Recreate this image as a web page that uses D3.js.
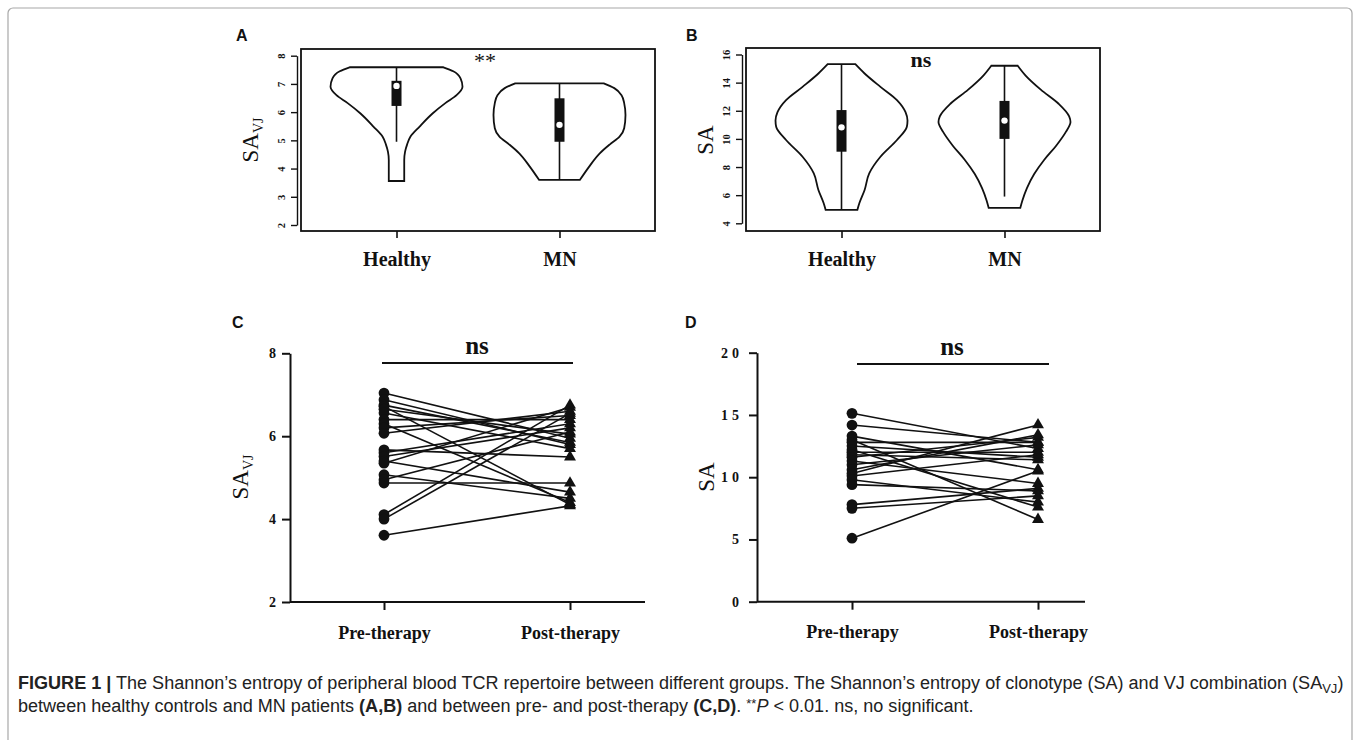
<!DOCTYPE html>
<html>
<head>
<meta charset="utf-8">
<script src="https://cdn.jsdelivr.net/npm/d3@7"></script>
<style>
  body { margin: 0; background: #fff; }
  svg { display: block; }
</style>
</head>
<body>
<div id="chart"></div>
<script>
// ---- data ----
const groupsAB = ["Healthy", "MN"];
const groupsCD = ["Pre-therapy", "Post-therapy"];

const ticksA = [2, 3, 4, 5, 6, 7, 8];
const ticksB = [4, 6, 8, 10, 12, 14, 16];
const ticksC = [2, 4, 6, 8];
const ticksD = [0, 5, 10, 15, 20];

// violin outlines: [value, relative density]
const violinA_healthy = [[7.59, 0.71], [7.45, 0.86], [7.2, 0.97], [6.9, 1.0], [6.6, 0.91], [6.32, 0.74],
  [5.96, 0.55], [5.49, 0.35], [5.13, 0.21], [4.85, 0.16], [4.6, 0.13], [4.3, 0.117], [3.56, 0.117]];
const violinA_mn = [[7.02, 0.67], [6.85, 0.83], [6.6, 0.94], [6.32, 0.98], [5.9, 1.0], [5.43, 0.98],
  [5.13, 0.91], [4.85, 0.76], [4.54, 0.61], [4.07, 0.45], [3.6, 0.31]];
const violinB_healthy = [[15.31, 0.21], [14.65, 0.35], [13.7, 0.59], [12.76, 0.84], [11.9, 0.97], [11.3, 1.0],
  [10.86, 0.99], [9.92, 0.84], [8.73, 0.59], [7.55, 0.42], [6.37, 0.35], [5.42, 0.27], [4.95, 0.24]];
const violinB_mn = [[15.2, 0.2], [14.5, 0.32], [13.5, 0.55], [12.5, 0.82], [11.6, 0.98], [11.2, 1.0],
  [10.5, 0.93], [9.5, 0.78], [8.5, 0.6], [7.5, 0.45], [6.5, 0.34], [5.6, 0.27], [5.1, 0.24]];

// box stats: [whisker low, q1, median, q3, whisker high]
const boxA_healthy = [4.95, 6.22, 6.93, 7.11, 7.59];
const boxA_mn = [3.6, 4.95, 5.55, 6.49, 7.02];
const boxB_healthy = [4.95, 9.09, 10.82, 12.05, 15.31];
const boxB_mn = [5.9, 10.0, 11.3, 12.7, 15.2];

// paired samples
const preC  = [7.04, 6.88, 6.75, 6.72, 6.65, 6.56, 6.40, 6.30, 6.20, 6.07, 5.67, 5.60, 5.51, 5.40, 5.35, 5.07, 4.95, 4.87, 4.11, 4.00, 3.61];
const postC = [5.95, 5.80, 5.85, 4.35, 6.05, 5.70, 6.40, 4.40, 6.50, 6.60, 5.50, 6.30, 6.20, 4.65, 6.70, 4.50, 6.10, 4.87, 6.75, 6.55, 4.32];
const preD  = [15.13, 14.19, 13.3, 13.0, 12.8, 12.5, 12.2, 12.0, 11.8, 11.6, 11.3, 11.0, 10.6, 10.3, 10.1, 9.8, 9.4, 7.8, 7.5, 5.1];
const postD = [12.3, 12.8, 10.6, 6.6, 12.8, 11.6, 7.6, 12.0, 11.4, 13.2, 9.5, 12.6, 13.4, 14.2, 11.8, 8.0, 8.9, 9.1, 8.5, 10.5];

const serif = "'Liberation Serif', 'Times New Roman', serif";
const sans = "'Liberation Sans', Arial, sans-serif";
const ink = "#111";

const width = 1360;
const height = 740;

const svg = d3.select('#chart')
  .append('svg')
  .attr('width', width)
  .attr('height', height)
  .attr('viewBox', `0 0 ${width} ${height}`);

// light frame round the whole figure (runs off the bottom edge)
svg.append('rect')
  .attr('x', 8).attr('y', 8)
  .attr('width', width - 16).attr('height', 745)
  .attr('rx', 5)
  .attr('fill', 'none')
  .attr('stroke', '#a8a8a8')
  .attr('stroke-width', 1.2);

function panelLabel(txt, x, y) {
  svg.append('text')
    .attr('x', x).attr('y', y)
    .attr('font-family', sans)
    .attr('font-weight', 'bold')
    .attr('font-size', 16)
    .attr('fill', ink)
    .text(txt);
}

function yLabel(x, y, main, sub) {
  const t = svg.append('text')
    .attr('transform', `translate(${x},${y}) rotate(-90)`)
    .attr('text-anchor', 'middle')
    .attr('font-family', serif)
    .attr('font-size', 23)
    .attr('fill', ink);
  t.append('tspan').text(main);
  if (sub) {
    t.append('tspan').attr('font-size', 14).attr('dy', 5).text(sub);
  }
}

// ---- violin panels (A, B) ----
function violinPanel(cfg) {
  const g = svg.append('g');
  const x = d3.scalePoint().domain(groupsAB).range([cfg.left, cfg.right]).padding(0.586);
  const y = d3.scaleLinear().domain(cfg.yDomain).range(cfg.yRange);
  const w = d3.scaleLinear().domain([0, 1]).range([0, 66]);

  g.append('rect')
    .attr('x', cfg.left).attr('y', cfg.top)
    .attr('width', cfg.right - cfg.left).attr('height', cfg.bottom - cfg.top)
    .attr('fill', 'none').attr('stroke', ink).attr('stroke-width', 1.8);

  // y axis, labels turned like base R
  const gy = g.append('g')
    .attr('transform', `translate(${cfg.left - 4},0)`)
    .call(d3.axisLeft(y).tickValues(cfg.ticks).tickFormat(d3.format('d')).tickSize(6).tickSizeOuter(0));
  gy.select('.domain').attr('stroke', ink).attr('stroke-width', 1.4);
  gy.selectAll('.tick line').attr('stroke', ink).attr('stroke-width', 1.4);
  gy.selectAll('.tick text')
    .attr('transform', 'rotate(-90)')
    .attr('x', 0).attr('y', -12).attr('dy', 0)
    .attr('text-anchor', 'middle')
    .attr('font-family', serif).attr('font-weight', 'bold').attr('font-size', 10.5)
    .attr('fill', ink);

  const gx = g.append('g')
    .attr('transform', `translate(0,${cfg.bottom})`)
    .call(d3.axisBottom(x).tickSize(7).tickSizeOuter(0).tickPadding(14));
  gx.select('.domain').remove();
  gx.selectAll('.tick line').attr('stroke', ink).attr('stroke-width', 1.6);
  gx.selectAll('.tick text')
    .attr('font-family', serif).attr('font-weight', 'bold').attr('font-size', 20)
    .attr('fill', ink).attr('dy', '0.71em');

  const area = d3.area()
    .y(d => y(d[0]))
    .x0(d => -w(d[1]))
    .x1(d => w(d[1]))
    .curve(d3.curveMonotoneY);

  groupsAB.forEach((grp, i) => {
    const cx = x(grp);
    const vg = g.append('g').attr('transform', `translate(${cx},0)`);
    vg.append('path')
      .attr('d', area(cfg.violins[i]))
      .attr('fill', 'none').attr('stroke', ink).attr('stroke-width', 1.8);
    const b = cfg.boxes[i];
    vg.append('line')
      .attr('x1', 0).attr('x2', 0)
      .attr('y1', y(b[4])).attr('y2', y(b[0]))
      .attr('stroke', ink).attr('stroke-width', 1.6);
    vg.append('rect')
      .attr('x', -5).attr('width', 10)
      .attr('y', y(b[3])).attr('height', y(b[1]) - y(b[3]))
      .attr('fill', ink);
    vg.append('circle')
      .attr('cx', 0).attr('cy', y(b[2])).attr('r', 3.2)
      .attr('fill', '#fff');
  });

  g.append('text')
    .attr('x', (cfg.left + cfg.right) / 2 + cfg.sigDx).attr('y', cfg.top + 19)
    .attr('text-anchor', 'middle')
    .attr('font-family', serif)
    .attr('font-weight', cfg.sigBold ? 'bold' : 'normal')
    .attr('font-size', cfg.sigSize)
    .attr('fill', ink)
    .text(cfg.sig);
}

violinPanel({
  left: 301, right: 655, top: 49, bottom: 231,
  yDomain: [2, 8], yRange: [225, 55.7], ticks: ticksA,
  violins: [violinA_healthy, violinA_mn], boxes: [boxA_healthy, boxA_mn],
  sig: '**', sigBold: false, sigSize: 22, sigDx: 7
});
violinPanel({
  left: 746, right: 1100, top: 48, bottom: 231,
  yDomain: [4, 16], yRange: [223.3, 54.5], ticks: ticksB,
  violins: [violinB_healthy, violinB_mn], boxes: [boxB_healthy, boxB_mn],
  sig: 'ns', sigBold: true, sigSize: 22, sigDx: -2
});
panelLabel('A', 236, 41);
panelLabel('B', 686, 41);
yLabel(258, 140, 'SA', 'VJ');
yLabel(713, 140, 'SA');

// ---- paired panels (C, D) ----
function pairedPanel(cfg) {
  const g = svg.append('g');
  const x = d3.scalePoint().domain(groupsCD).range(cfg.xRange);
  const y = d3.scaleLinear().domain(cfg.yDomain).range(cfg.yRange);

  // x axis line runs from the y axis
  g.append('line')
    .attr('x1', cfg.axisX).attr('x2', cfg.axisEnd)
    .attr('y1', y(cfg.yDomain[0])).attr('y2', y(cfg.yDomain[0]))
    .attr('stroke', ink).attr('stroke-width', 2);

  const gx = g.append('g')
    .attr('transform', `translate(0,${y(cfg.yDomain[0])})`)
    .call(d3.axisBottom(x).tickSize(8).tickSizeOuter(0).tickPadding(16));
  gx.select('.domain').remove();
  gx.selectAll('.tick line').attr('stroke', ink).attr('stroke-width', 2);
  gx.selectAll('.tick text')
    .attr('font-family', serif).attr('font-weight', 'bold').attr('font-size', 18)
    .attr('fill', ink).attr('dy', '0.71em');

  const gy = g.append('g')
    .attr('transform', `translate(${cfg.axisX},0)`)
    .call(d3.axisLeft(y).tickValues(cfg.ticks).tickFormat(d3.format('d'))
      .tickSize(8).tickSizeOuter(0).tickPadding(6));
  gy.select('.domain').attr('stroke', ink).attr('stroke-width', 2);
  gy.selectAll('.tick line').attr('stroke', ink).attr('stroke-width', 2);
  gy.selectAll('.tick text')
    .attr('font-family', serif).attr('font-weight', 'bold').attr('font-size', 14)
    .attr('fill', ink)
    .style('letter-spacing', cfg.spacing);

  const pairs = cfg.pre.map((v, i) => [v, cfg.post[i]]);

  g.selectAll('line.pair')
    .data(pairs)
    .enter()
    .append('line')
    .attr('class', 'pair')
    .attr('x1', x(groupsCD[0])).attr('x2', x(groupsCD[1]))
    .attr('y1', d => y(d[0])).attr('y2', d => y(d[1]))
    .attr('stroke', ink).attr('stroke-width', 1.6);

  g.selectAll('circle.pre')
    .data(cfg.pre)
    .enter()
    .append('circle')
    .attr('class', 'pre')
    .attr('cx', x(groupsCD[0])).attr('cy', d => y(d))
    .attr('r', 5.4)
    .attr('fill', ink);

  const tri = d3.symbol().type(d3.symbolTriangle).size(62);
  g.selectAll('path.post')
    .data(cfg.post)
    .enter()
    .append('path')
    .attr('class', 'post')
    .attr('d', tri)
    .attr('transform', d => `translate(${x(groupsCD[1])},${y(d)})`)
    .attr('fill', ink);

  // ns bar
  g.append('line')
    .attr('x1', x(groupsCD[0]) + cfg.barPad[0]).attr('x2', x(groupsCD[1]) + cfg.barPad[1])
    .attr('y1', cfg.barY).attr('y2', cfg.barY)
    .attr('stroke', ink).attr('stroke-width', 1.8);
  g.append('text')
    .attr('x', (x(groupsCD[0]) + x(groupsCD[1])) / 2 + cfg.barPad[0] + 2)
    .attr('y', cfg.barY - 9)
    .attr('text-anchor', 'middle')
    .attr('font-family', serif).attr('font-weight', 'bold').attr('font-size', 25)
    .attr('fill', ink)
    .text('ns');
}

pairedPanel({
  xRange: [384, 570], axisX: 290, axisEnd: 645,
  yDomain: [2, 8], yRange: [602, 353.3], ticks: ticksC,
  pre: preC, post: postC, spacing: '0px',
  barY: 363, barPad: [-2, 3]
});
pairedPanel({
  xRange: [852, 1038], axisX: 757, axisEnd: 1085,
  yDomain: [0, 20], yRange: [601.7, 352.7], ticks: ticksD,
  pre: preD, post: postD, spacing: '4px',
  barY: 364, barPad: [5, 11]
});
panelLabel('C', 232, 328);
panelLabel('D', 685, 328);
yLabel(248, 477, 'SA', 'VJ');
yLabel(714, 477, 'SA');

// ---- caption ----
const capFont = "'Liberation Sans Narrow', 'Liberation Sans', Arial, sans-serif";
const cap1 = svg.append('text')
  .attr('x', 18).attr('y', 689)
  .attr('font-family', capFont).attr('font-size', 19).attr('fill', '#222');
cap1.append('tspan').attr('font-weight', 'bold').text('FIGURE 1 |');
cap1.append('tspan').text(' The Shannon\u2019s entropy of peripheral blood TCR repertoire between different groups. The Shannon\u2019s entropy of clonotype (SA) and VJ combination (SA');
cap1.append('tspan').attr('font-size', 13).attr('dy', 4).text('VJ');
cap1.append('tspan').attr('dy', -4).text(')');

const cap2 = svg.append('text')
  .attr('x', 18).attr('y', 712)
  .attr('font-family', capFont).attr('font-size', 19).attr('fill', '#222');
cap2.append('tspan').text('between healthy controls and MN patients ');
cap2.append('tspan').attr('font-weight', 'bold').text('(A,B)');
cap2.append('tspan').text(' and between pre- and post-therapy ');
cap2.append('tspan').attr('font-weight', 'bold').text('(C,D)');
cap2.append('tspan').text('. ');
cap2.append('tspan').attr('font-size', 13).attr('dy', -4).text('**');
cap2.append('tspan').attr('dy', 4).attr('font-style', 'italic').text('P');
cap2.append('tspan').text(' < 0.01. ns, no significant.');

// fit the first caption line to the text block width, same size for line two
const natural = cap1.node().getComputedTextLength();
const fs = 19 * 1325 / natural;
cap1.attr('font-size', fs);
cap2.attr('font-size', fs);
</script>
</body>
</html>
